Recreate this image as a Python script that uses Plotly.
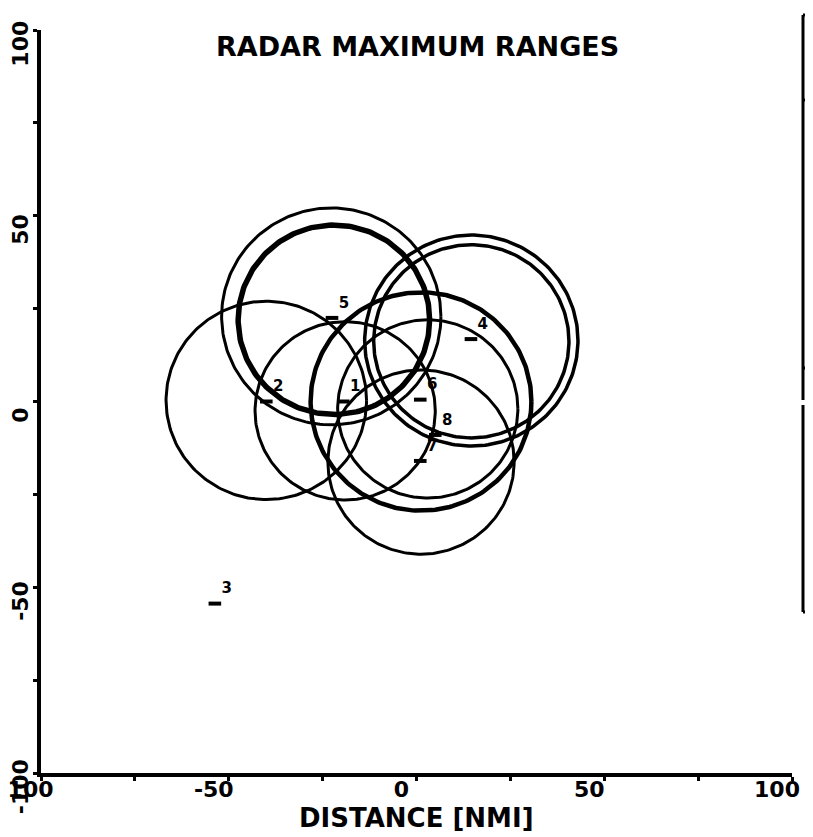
import numpy as np
import plotly.graph_objects as go

# ---- data (nautical miles) ----
radar_ids = ["1", "2", "3", "4", "5", "6", "7", "8"]
radar_x = [-19.5, -40.0, -53.7, 14.5, -22.5, 1.0, 1.0, 5.0]
radar_y = [0.0, 0.0, -54.4, 16.8, 22.5, 0.5, -16.0, -9.0]

# range rings: center x, center y, radius
ring_x = [-40.0, -22.7, -22.0, 14.6, 14.6, -19.0, 1.2, 1.2, 3.0]
ring_y = [0.3, 22.9, 22.0, 16.4, 16.2, -2.5, 0.0, -16.3, -2.0]
ring_r = [26.7, 29.2, 25.5, 28.4, 26.0, 24.0, 29.4, 24.8, 24.0]
ring_w = [3.0, 3.0, 5.5, 3.5, 3.5, 3.0, 4.5, 3.0, 3.0]

x_ticks = [-100, -50, 0, 50, 100]
y_ticks = [-100, -50, 0, 50, 100]

OFF = 8  # page body margin
W, H = 813 - OFF, 837 - OFF
FONT = "DejaVu Sans"

def px(xp):
    return (xp - OFF) / W

def py(yp):
    return 1 - (yp - OFF) / H

fig = go.Figure()
theta = np.linspace(0, 2 * np.pi, 241)
for cx, cy, r, w in zip(ring_x, ring_y, ring_r, ring_w):
    fig.add_trace(go.Scatter(
        x=cx + r * np.cos(theta), y=cy + r * np.sin(theta),
        mode="lines", line=dict(color="black", width=w),
        hoverinfo="skip", showlegend=False))

fig.add_trace(go.Scatter(
    x=radar_x, y=radar_y, mode="markers+text",
    marker=dict(symbol="line-ew", size=9, line=dict(color="black", width=4)),
    text=radar_ids, textposition="top right",
    textfont=dict(family=FONT, size=15, color="black", weight="bold"),
    showlegend=False))

axis_common = dict(
    showgrid=False, zeroline=False, showline=True, linecolor="black",
    linewidth=3.5, ticks="outside", ticklen=4, tickwidth=3, tickcolor="black",
    tickfont=dict(family=FONT, size=22, color="black", weight="bold"),
    automargin=False, ticklabeloverflow="allow",
    minor=dict(dtick=25, ticks="outside", ticklen=4, tickwidth=3, tickcolor="black"),
)

fig.update_layout(
    width=W, height=H,
    margin=dict(l=0, r=0, t=0, b=0),
    paper_bgcolor="white", plot_bgcolor="white",
    xaxis=dict(range=[-100, 100], tickvals=x_ticks, ticktext=[str(v) for v in x_ticks],
               domain=[px(41), px(792)], anchor="y", ticklabelshift=-15,
               ticklabelstandoff=-10, **axis_common),
    yaxis=dict(range=[-100, 100], tickvals=y_ticks, ticktext=[str(v) for v in y_ticks],
               domain=[py(773), py(30)], anchor="x", tickangle=-90, ticklabelshift=17,
               ticklabelstandoff=-4, **axis_common),
    annotations=[
        dict(text="RADAR MAXIMUM RANGES", x=px(418), y=py(46), xref="paper", yref="paper",
             xanchor="center", yanchor="middle", showarrow=False,
             font=dict(family=FONT, size=27, color="black", weight="bold")),
        dict(text="DISTANCE [NMI]", x=px(416), y=py(818), xref="paper", yref="paper",
             xanchor="center", yanchor="middle", showarrow=False,
             font=dict(family=FONT, size=26, color="black", weight="bold")),
    ],
    shapes=[
        # edge of a neighbouring (cut-off) panel
        dict(type="line", xref="paper", yref="paper", x0=px(803), x1=px(803), y0=py(15), y1=py(400),
             line=dict(color="black", width=3)),
        dict(type="line", xref="paper", yref="paper", x0=px(803), x1=px(803), y0=py(405), y1=py(612),
             line=dict(color="black", width=3)),
        dict(type="line", xref="paper", yref="paper", x0=px(803), x1=px(813), y0=py(15), y1=py(15),
             line=dict(color="black", width=3)),
        dict(type="line", xref="paper", yref="paper", x0=px(803), x1=px(813), y0=py(612), y1=py(612),
             line=dict(color="black", width=3)),
        dict(type="line", xref="paper", yref="paper", x0=px(803), x1=px(811), y0=py(100), y1=py(100),
             line=dict(color="black", width=3)),
        dict(type="line", xref="paper", yref="paper", x0=px(803), x1=px(811), y0=py(368), y1=py(368),
             line=dict(color="black", width=3)),
    ],
)

fig.write_html("out.html")
